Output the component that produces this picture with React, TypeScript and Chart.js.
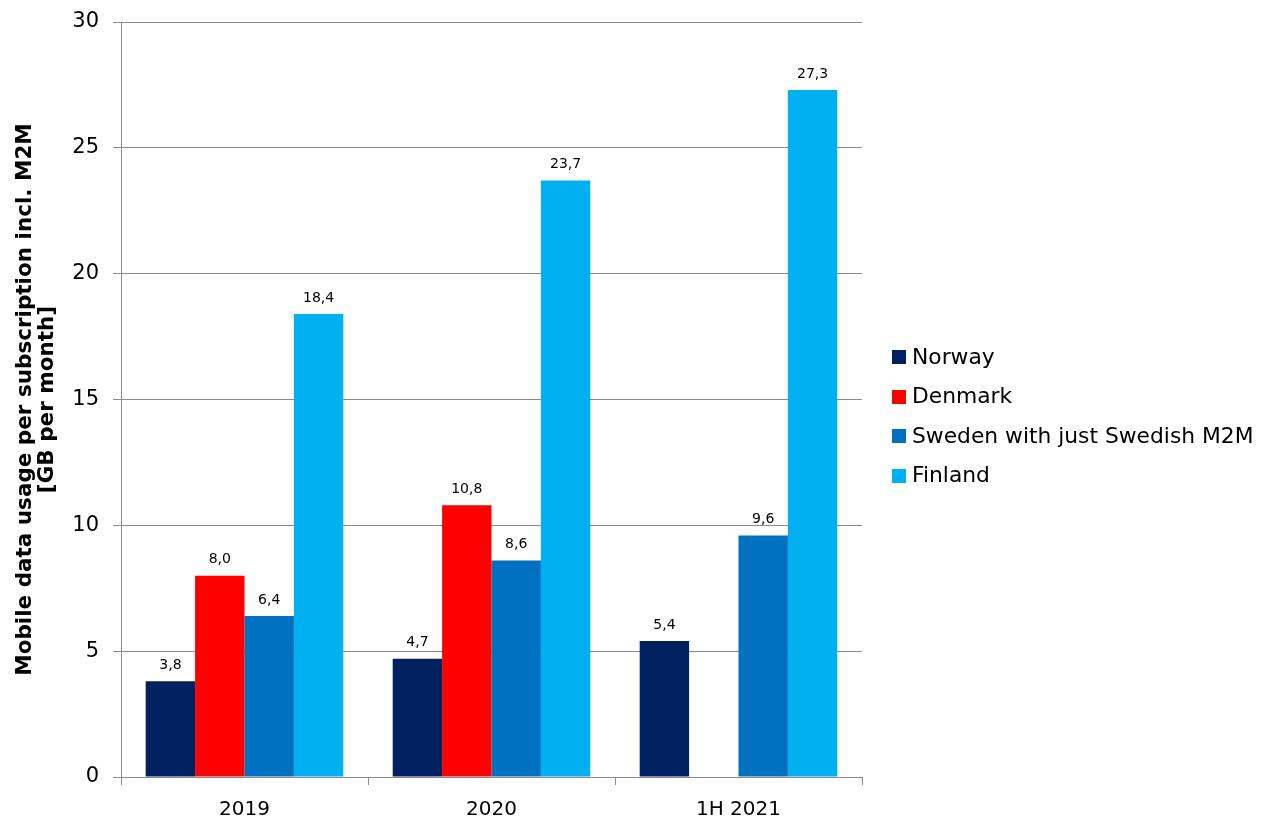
import React, { useEffect, useRef } from 'react';
import { Chart, registerables } from 'chart.js';

Chart.register(...registerables);

const categories = ['2019', '2020', '1H 2021'];
const seriesNames = ['Norway', 'Denmark', 'Sweden with just Swedish M2M', 'Finland'];
const norway = [3.8, 4.7, 5.4];
const denmark = [8.0, 10.8, null];
const sweden = [6.4, 8.6, 9.6];
const finland = [18.4, 23.7, 27.3];
const seriesColors = ['#002060', '#FF0000', '#0070C0', '#00B0F0'];
const yMin = 0;
const yMax = 30;
const yStep = 5;
const yTitle = ['Mobile data usage per subscription incl. M2M', '[GB per month]'];

const FONT = '"DejaVu Sans", Verdana, sans-serif';
const GRID = '#8a8a8a';

const valueLabels = {
  id: 'valueLabels',
  afterDatasetsDraw(chart: any) {
    const ctx = chart.ctx;
    ctx.save();
    ctx.font = `14px ${FONT}`;
    ctx.fillStyle = '#000';
    ctx.textAlign = 'center';
    ctx.textBaseline = 'middle';
    chart.data.datasets.forEach((ds: any, di: number) => {
      const meta = chart.getDatasetMeta(di);
      meta.data.forEach((el: any, i: number) => {
        const v = ds.data[i];
        if (v === null || v === undefined) return;
        ctx.fillText(Number(v).toFixed(1).replace('.', ','), el.x, el.y - 16);
      });
    });
    ctx.restore();
  },
};

const sideLegend = {
  id: 'sideLegend',
  afterDraw(chart: any) {
    const ctx = chart.ctx;
    ctx.save();
    ctx.font = `21.8px ${FONT}`;
    ctx.textAlign = 'left';
    ctx.textBaseline = 'middle';
    chart.data.datasets.forEach((ds: any, i: number) => {
      const cy = 357 + i * 39.5;
      ctx.fillStyle = ds.backgroundColor;
      ctx.fillRect(892, Math.round(cy - 7), 14, 14);
      ctx.fillStyle = '#000';
      ctx.fillText(ds.label, 912, cy + 1);
    });
    ctx.restore();
  },
};

export default function App() {
  const ref = useRef<HTMLCanvasElement | null>(null);
  useEffect(() => {
    if (!ref.current) return;
    const seriesData = [norway, denmark, sweden, finland];
    const chart = new Chart(ref.current, {
      type: 'bar',
      data: {
        labels: categories,
        datasets: seriesNames.map((name, i) => ({
          label: name,
          data: seriesData[i],
          backgroundColor: seriesColors[i],
          borderWidth: 0,
          categoryPercentage: 0.8,
          barPercentage: 1.0,
        })),
      },
      options: {
        responsive: false,
        animation: false,
        layout: { padding: { top: 22, right: 401, left: 0, bottom: 0 } },
        plugins: {
          legend: { display: false },
          tooltip: { enabled: false },
        },
        scales: {
          x: {
            afterFit(scale: any) {
              scale.height = 46;
              scale.paddingLeft = 0;
              scale.paddingRight = 0;
            },
            grid: {
              drawOnChartArea: false,
              drawTicks: true,
              tickLength: 8,
              color: GRID,
              offset: true,
            },
            border: { display: true, color: GRID },
            ticks: {
              color: '#000',
              font: { family: FONT, size: 20 },
              padding: 13,
              maxRotation: 0,
            },
          },
          y: {
            min: yMin,
            max: yMax,
            afterFit(scale: any) {
              scale.width = 121;
              scale.paddingTop = 0;
              scale.paddingBottom = 0;
            },
            grid: { color: GRID, tickLength: 8, drawTicks: true },
            border: { display: true, color: GRID },
            ticks: {
              stepSize: yStep,
              color: '#000',
              font: { family: FONT, size: 21 },
              padding: 14,
            },
            title: {
              display: true,
              text: yTitle,
              color: '#000',
              font: { family: FONT, size: 21.5, weight: 'bold', lineHeight: 1.05 },
              padding: { top: 14, bottom: 0 },
            },
          },
        },
      },
      plugins: [valueLabels, sideLegend],
    } as any);
    return () => chart.destroy();
  }, []);
  return (
    <div style={{ position: 'absolute', left: 0, top: 0, width: 1263, height: 823, background: '#fff' }}>
      <canvas ref={ref} width={1263} height={823} style={{ width: 1263, height: 823 }} />
    </div>
  );
}
